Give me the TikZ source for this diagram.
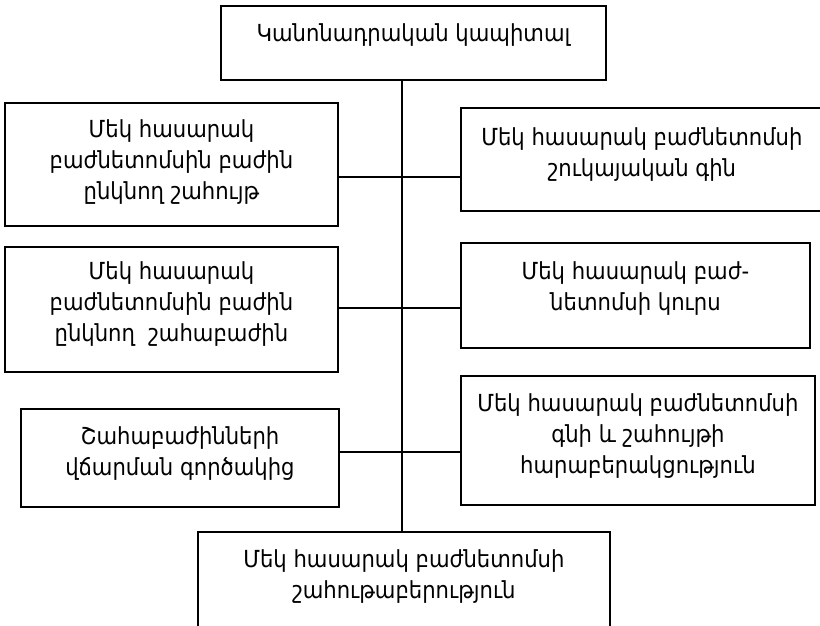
\documentclass[tikz,border=0pt]{standalone}
\usepackage{fontspec}
\setmainfont{DejaVu Sans Condensed}
\usetikzlibrary{calc}
\begin{document}
\begin{tikzpicture}[x=1pt,y=-1pt,
  box/.style={draw, line width=1.8pt, inner sep=0pt},
  txt/.style={align=center, font=\fontsize{23.5}{31}\selectfont, inner sep=0pt},
  link/.style={line width=1.3pt}]
\useasboundingbox (0,0) rectangle (820,626);

% boxes
\node[box, minimum width=385, minimum height=74] (top) at (413.5,43) {};
\node[box, minimum width=333, minimum height=123] (L1) at (171.5,164.5) {};
\node[box, minimum width=362, minimum height=103] (R1) at (642,159.5) {};
\node[box, minimum width=333, minimum height=125] (L2) at (171.5,309.5) {};
\node[box, minimum width=349, minimum height=105] (R2) at (635.5,295.5) {};
\node[box, minimum width=318, minimum height=98] (L3) at (180,458) {};
\node[box, minimum width=354, minimum height=129] (R3) at (638,440.5) {};
\node[box, minimum width=412, minimum height=98] (bot) at (404,581) {};

% texts
\node[txt] (topt) at ($(top)+(0,-8)$) {Կանոնադրական կապիտալ};
\node[txt] (L1t) at ($(L1)+(0,-2)$) {Մեկ հասարակ\\բաժնետոմսին բաժին\\ընկնող շահույթ};
\node[txt] (R1t) at ($(R1)+(0,-5)$) {Մեկ հասարակ բաժնետոմսի\\շուկայական գին};
\node[txt] (L2t) at ($(L2)+(0,-5)$) {Մեկ հասարակ\\բաժնետոմսին բաժին\\ընկնող~ շահաբաժին};
\node[txt] (R2t) at ($(R2)+(0,-7)$) {Մեկ հասարակ բաժ-\\նետոմսի կուրս};
\node[txt] (L3t) at ($(L3)+(0,-4)$) {Շահաբաժինների\\վճարման գործակից};
\node[txt] (R3t) at ($(R3)+(0,-4)$) {Մեկ հասարակ բաժնետոմսի\\գնի և շահույթի\\հարաբերակցություն};
\node[txt] (bott) at ($(bot)+(0,-4)$) {Մեկ հասարակ բաժնետոմսի\\շահութաբերություն};

% spine and cross links
\coordinate (sp) at (402,0);
\coordinate (c1) at (0,177);
\coordinate (c2) at (0,308);
\coordinate (c3) at (0,452);
\draw[link] (top.south -| sp) -- (bot.north -| sp);
\draw[link] (L1.east |- c1) -- (R1.west |- c1);
\draw[link] (L2.east |- c2) -- (R2.west |- c2);
\draw[link] (L3.east |- c3) -- (R3.west |- c3);
\end{tikzpicture}
\end{document}
